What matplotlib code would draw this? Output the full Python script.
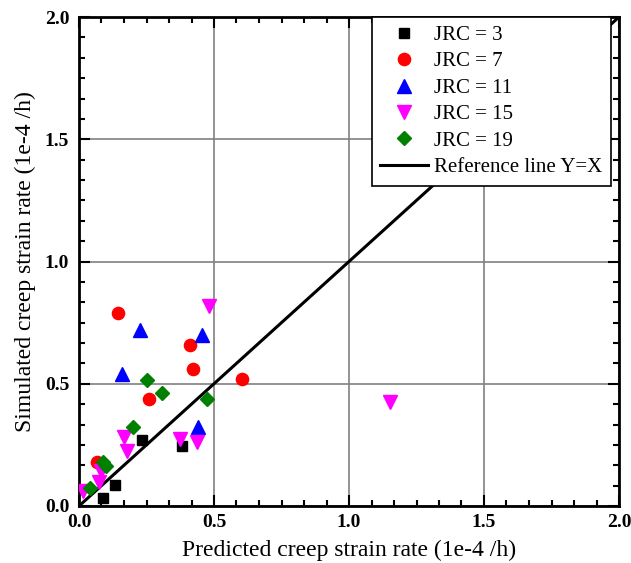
import matplotlib
matplotlib.use('Agg')
import matplotlib.pyplot as plt
from matplotlib.ticker import MultipleLocator, AutoMinorLocator

plt.rcParams['font.family'] = ['Liberation Serif', 'DejaVu Serif']

# predicted (x) vs simulated (y) creep strain rate, 1e-4 /h
jrc3_x = [0.088, 0.133, 0.232, 0.383]
jrc3_y = [0.031, 0.086, 0.269, 0.246]

jrc7_x = [0.067, 0.146, 0.259, 0.411, 0.423, 0.602]
jrc7_y = [0.179, 0.789, 0.439, 0.660, 0.559, 0.518]

jrc11_x = [0.160, 0.226, 0.442, 0.457]
jrc11_y = [0.539, 0.718, 0.324, 0.698]

jrc15_x = [0.014, 0.074, 0.081, 0.167, 0.177, 0.374, 0.436, 0.481, 1.152]
jrc15_y = [0.060, 0.098, 0.142, 0.283, 0.226, 0.276, 0.262, 0.820, 0.426]

jrc19_x = [0.039, 0.088, 0.100, 0.199, 0.251, 0.309, 0.475]
jrc19_y = [0.072, 0.178, 0.165, 0.323, 0.514, 0.463, 0.437]

ref_x = [0.0, 2.0]
ref_y = [0.0, 2.0]

fig = plt.figure(figsize=(6.31, 5.63), dpi=100)
ax = fig.add_axes([79/631, 57/563, 540/631, 489/563])

ax.plot(jrc3_x, jrc3_y, 's', color='black', ms=7.4, ls='none', label='JRC = 3', zorder=4)
ax.plot(jrc7_x, jrc7_y, 'o', color='red', ms=8.8, ls='none', label='JRC = 7', zorder=4)
ax.plot(jrc11_x, jrc11_y, '^', color='blue', ms=9.8, ls='none', label='JRC = 11', zorder=4)
ax.plot(jrc15_x, jrc15_y, 'v', color='magenta', ms=9.8, ls='none', label='JRC = 15', zorder=4)
ax.plot(jrc19_x, jrc19_y, 'D', color='green', ms=7.2, ls='none', label='JRC = 19', zorder=4)
ax.plot(ref_x, ref_y, '-', color='black', lw=2.2, label='Reference line Y=X', zorder=3)

ax.set_xlim(0, 2)
ax.set_ylim(0, 2)
ax.xaxis.set_major_locator(MultipleLocator(0.5))
ax.yaxis.set_major_locator(MultipleLocator(0.5))
ax.xaxis.set_minor_locator(AutoMinorLocator(6))
ax.yaxis.set_minor_locator(AutoMinorLocator(6))
ax.grid(True, which='major', color='#808080', lw=1.2, zorder=0)

ax.tick_params(which='both', direction='in', top=True, right=True, width=1.5)
ax.tick_params(which='major', length=8)
ax.tick_params(which='minor', length=4)
ax.tick_params(axis='x', pad=6)
ax.tick_params(axis='y', pad=7)
for lab in ax.get_xticklabels() + ax.get_yticklabels():
    lab.set_fontsize(14)
    lab.set_fontweight('bold')
for sp in ax.spines.values():
    sp.set_linewidth(2)

ax.set_xlabel('Predicted creep strain rate (1e-4 /h)', fontsize=17, labelpad=6)
ax.set_ylabel('Simulated creep strain rate (1e-4 /h)', fontsize=17, labelpad=6)

leg = ax.legend(loc='upper right', bbox_to_anchor=(0.985, 1.0), borderaxespad=0,
                fontsize=15, fancybox=False, framealpha=1, edgecolor='black',
                handlelength=2.3, handletextpad=0.3, borderpad=0.4, labelspacing=0.33)
leg.get_frame().set_linewidth(1.2)
leg.set_zorder(10)

fig.savefig('out.png', dpi=100)
